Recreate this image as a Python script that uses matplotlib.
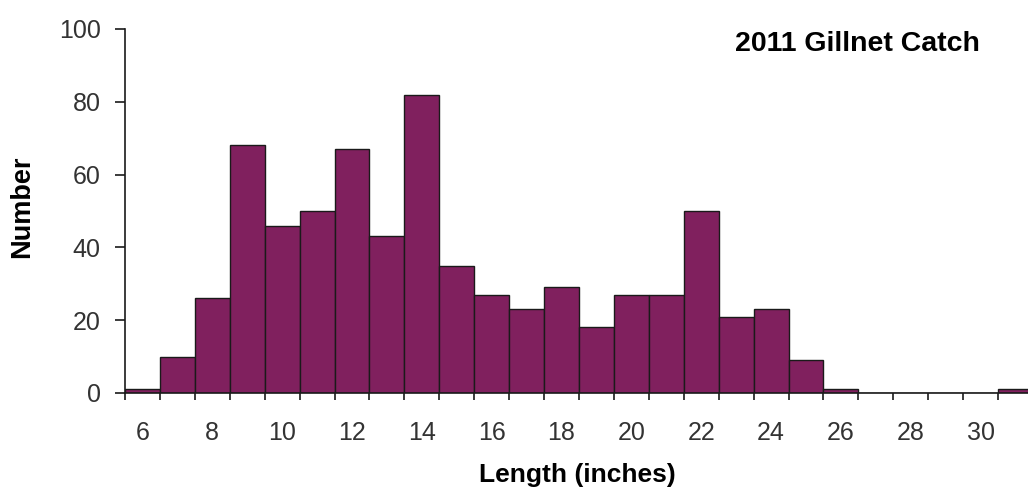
import matplotlib
matplotlib.use("Agg")
import matplotlib.pyplot as plt
from matplotlib.ticker import FixedLocator
import numpy as np

# Length classes (inches) and catch counts
lengths = list(range(6, 32))
counts = [1, 10, 26, 68, 46, 50, 67, 43, 82, 35, 27, 23, 29, 18,
          27, 27, 50, 21, 23, 9, 1, 0, 0, 0, 0, 1]
tick_labels = [str(v) for v in range(6, 31, 2)]
title = "2011 Gillnet Catch"

plt.rcParams['font.family'] = ['Liberation Sans', 'DejaVu Sans']

fig = plt.figure(figsize=(10.28, 4.93), dpi=100)
ax = fig.add_axes([125 / 1028, 1 - 393 / 493, 908 / 1028, 364 / 493])

ax.bar(lengths, counts, width=1.0, color='#80205E', edgecolor='#1a1a1a',
       linewidth=1.0, zorder=2)

ax.set_xlim(5.5, 31.5)
ax.set_ylim(0, 100)

# Category labels at even lengths, tick marks between categories
ax.xaxis.set_major_locator(FixedLocator(range(6, 31, 2)))
ax.set_xticklabels(tick_labels)
ax.xaxis.set_minor_locator(FixedLocator(np.arange(5.5, 32, 1.0)))
ax.tick_params(axis='x', which='major', length=0, pad=20.5,
               labelsize=18, labelcolor='#333333')
ax.tick_params(axis='x', which='minor', length=5, width=1.2,
               direction='out', color='#1a1a1a')

ax.set_yticks(range(0, 101, 20))
ax.tick_params(axis='y', length=7.5, width=1.2, direction='out',
               color='#1a1a1a', pad=10, labelsize=18, labelcolor='#333333')

for side in ('top', 'right'):
    ax.spines[side].set_visible(False)
for side in ('left', 'bottom'):
    ax.spines[side].set_linewidth(1.2)
    ax.spines[side].set_color('#1a1a1a')

fig.text(22 / 1028, 1 - 207 / 493, "Number", rotation=90, fontsize=19.5,
         fontweight='bold', ha='center', va='center')
fig.text(577 / 1028, 1 - 475 / 493, "Length (inches)", fontsize=19,
         fontweight='bold', ha='center', va='center')
fig.text(857 / 1028, 1 - 44 / 493, title, fontsize=20.5,
         fontweight='bold', ha='center', va='center')

fig.savefig("out.png", dpi=100)
